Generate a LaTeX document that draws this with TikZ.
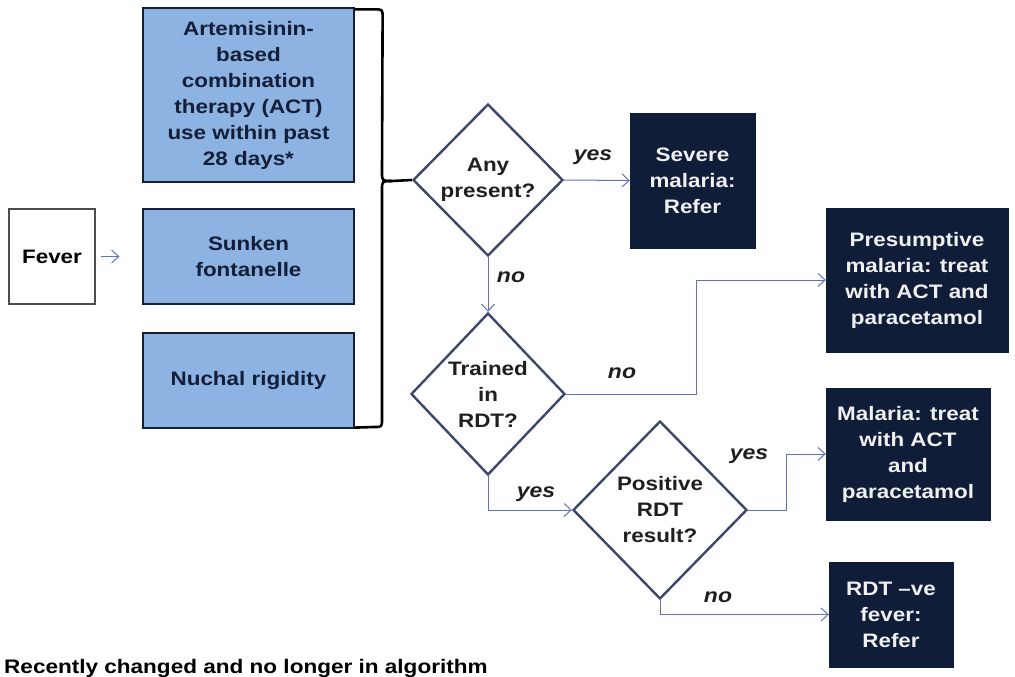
\documentclass[tikz,border=0pt]{standalone}
\usepackage{fontspec}
\setmainfont{Liberation Sans}[FakeStretch=1.15]
\usetikzlibrary{shapes.geometric,arrows.meta,calc}
\definecolor{lblue}{RGB}{141,179,227}
\definecolor{navy}{RGB}{16,29,56}
\definecolor{conn}{RGB}{95,115,185}
\definecolor{dmd}{RGB}{60,72,105}
\definecolor{boxtext}{RGB}{20,30,55}
\tikzset{
  txt/.style={font=\fontsize{19.5}{26}\selectfont\bfseries, align=center},
  bluebox/.style={txt, draw=boxtext, line width=1.2pt, fill=lblue, text=boxtext, inner sep=0pt},
  darkbox/.style={txt, fill=navy, draw=navy, text=white!94!black, inner sep=0pt},
  whitebox/.style={txt, draw=black!70, line width=1.2pt, fill=white, text=black, inner sep=0pt},
  dec/.style={diamond, draw=dmd, line width=2.4pt, fill=white, txt, inner sep=0pt, text=black!88},
  arr/.style={draw=conn, line width=1pt, -{Straight Barb[length=7pt,width=13pt]}},
  lab/.style={font=\fontsize{20}{22}\selectfont\bfseries\itshape, text=black!88},
  bracel/.style={draw=black, line width=2.6pt}
}
\begin{document}
\begin{tikzpicture}[x=1pt,y=-1pt]
\useasboundingbox (0,0) rectangle (1015,677);
% left boxes
\node[whitebox, minimum width=86pt, minimum height=95pt] (fever) at (52,256.5) {Fever};
\node[bluebox, minimum width=211pt, minimum height=174pt] (act) at (248.5,95) {Artemisinin-\\based\\combination\\therapy (ACT)\\use within past\\28 days*};
\node[bluebox, minimum width=211pt, minimum height=95pt] (sunken) at (248.5,256.5) {Sunken\\fontanelle};
\node[bluebox, minimum width=211pt, minimum height=95pt] (nuchal) at (248.5,380.5) {Nuchal rigidity};
% diamonds
\node[dec, minimum width=150pt, minimum height=152pt] (d1) at (488,180) {Any\\present?};
\node[dec, minimum width=154pt, minimum height=162pt] (d2) at (488,394) {Trained\\in\\RDT?};
\node[dec, minimum width=174pt, minimum height=178pt] (d3) at (660,510) {Positive\\RDT\\result?};
% outcome boxes
\node[darkbox, minimum width=125pt, minimum height=135pt] (severe) at (692.5,180.5) {Severe\\malaria:\\Refer};
\node[darkbox, minimum width=182pt, minimum height=144pt] (pres) at (917,280) {Presumptive\\malaria: treat\\with ACT and\\paracetamol};
\node[darkbox, minimum width=164pt, minimum height=132pt] (mal) at (908,454) {Malaria: treat\\with ACT\\and\\paracetamol};
\node[darkbox, minimum width=124pt, minimum height=105pt] (rdt) at (891,614.5) {RDT --ve\\fever:\\Refer};
% brace
\coordinate (bt) at (act.north east);
\coordinate (bb) at (nuchal.south east);
\draw[bracel, line join=round] ($(bt)+(0,2)$) -- ++(20,0) .. controls ++(8,0) .. ++(8,8) -- (382,172) .. controls (382,181) .. (392,181) -- (d1.west);
\draw[bracel, line join=round] (392,181) .. controls (382,181) .. (382,190) -- (382,419) .. controls (382,427) .. (374,427) -- ($(bb)+(0,-1)$);
% connectors
\draw[arr, shorten <=5pt, shorten >=23pt] (fever) -- (sunken);
\draw[arr] (d1.east) -- (severe.west);
\draw[arr] (d1.south) -- (d2.north);
\draw[arr] (d2.east) -- ++(130,0) |- (pres.west);
\draw[arr] (d2.south) |- (d3.west);
\draw[arr] (d3.east) -- ++(38,0) |- (mal.west);
\draw[arr] (d3.south) |- (rdt.west);
% labels
\node[lab] (l1) at (593,157) {yes};
\node[lab] (l2) at (511,277) {no};
\node[lab] (l3) at (622,373) {no};
\node[lab] (l4) at (536,494) {yes};
\node[lab] (l5) at (749,456) {yes};
\node[lab] (l6) at (718,597) {no};
% footer
\node[anchor=base west, font=\fontsize{19.6}{22}\selectfont\bfseries, text=black, inner sep=0pt] (foot) at (4,673) {Recently changed and no longer in algorithm};
\end{tikzpicture}
\end{document}
